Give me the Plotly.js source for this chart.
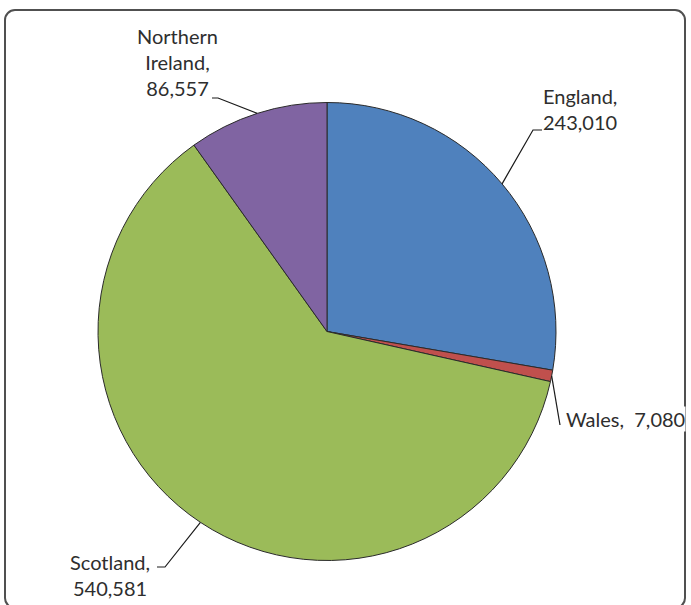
<!DOCTYPE html>
<html>
<head>
<meta charset="utf-8">
<script src="https://cdn.plot.ly/plotly-3.0.1.min.js"></script>
<style>
  html, body { margin: 0; padding: 0; background: #fff; overflow: hidden; }
  #wrap { position: relative; width: 691px; height: 605px; }
  #chart { position: absolute; left: 0; top: 0; width: 691px; height: 605px; z-index: 2; }
  #frame { position: absolute; left: 4px; top: 9px; width: 682px; height: 600px; z-index: 1;
           border: 2px solid #505050; border-radius: 11px; pointer-events: none; box-sizing: border-box; }
</style>
</head>
<body>
<div id="wrap"><div id="frame"></div><div id="chart"></div></div>
<script>
// ---- data ----
const categories = ["England", "Wales", "Scotland", "Northern Ireland"];
const labelText = ["England,<br>243,010", "Wales,\u00a0\u00a07,080", "Scotland,<br>540,581", "Northern<br>Ireland,<br>86,557"];
const values = [243010, 7080, 540581, 86557];
const colors = ["#4F81BD", "#C0504D", "#9BBB59", "#8064A2"];

// ---- layout geometry (pixels) ----
const W = 691, H = 605;
const cx = 327, cy = 331.5, R = 229;
const px = x => x / W;
const py = y => 1 - y / H;

// label placement (pixels): text anchor, alignment, elbow points of leader lines
const labelPos = [
  {x: 542, y: 109, xanchor: "left", align: "left", elbow: [[542, 130], [533, 130]], bg: "rgba(0,0,0,0)"},
  {x: 565, y: 419, xanchor: "left", align: "left", elbow: [[560, 425]], bg: "#ffffff"},
  {x: 110, y: 575, xanchor: "center", align: "center", elbow: [[157, 567], [165, 567]], bg: "rgba(0,0,0,0)"},
  {x: 177, y: 62, xanchor: "center", align: "center", elbow: [[212, 98], [218, 98]], bg: "rgba(0,0,0,0)"}
];

const total = values.reduce((a, b) => a + b, 0);
let acc = 0;
const shapes = [], annotations = [];
values.forEach((v, i) => {
  const mid = (acc + v / 2) / total * 2 * Math.PI; // clockwise from 12 o'clock
  acc += v;
  const ex = cx + R * Math.sin(mid), ey = cy - R * Math.cos(mid);
  const pts = labelPos[i].elbow.concat([[ex, ey]]);
  const path = pts.map((p, k) => (k ? "L" : "M") + px(p[0]).toFixed(5) + "," + py(p[1]).toFixed(5)).join(" ");
  shapes.push({type: "path", xref: "paper", yref: "paper", path: path,
               line: {color: "#1a1a1a", width: 1.2}});
  annotations.push({xref: "paper", yref: "paper", x: px(labelPos[i].x), y: py(labelPos[i].y),
                    xanchor: labelPos[i].xanchor, yanchor: "middle", align: labelPos[i].align,
                    text: labelText[i], showarrow: false, bgcolor: labelPos[i].bg, borderpad: 0,
                    font: {family: "Lato, 'Open Sans', sans-serif", size: 20, color: "#2e2e2e"}});
});

const trace = {
  type: "pie",
  labels: categories,
  values: values,
  sort: false,
  direction: "clockwise",
  rotation: 0,
  textinfo: "none",
  hoverinfo: "label+value",
  marker: {colors: colors, line: {color: "#2a2a2a", width: 1}},
  domain: {x: [px(cx - R), px(cx + R)], y: [py(cy + R), py(cy - R)]},
  showlegend: false
};

Plotly.newPlot("chart", [trace], {
  width: W, height: H,
  margin: {l: 0, r: 0, t: 0, b: 0},
  paper_bgcolor: "rgba(0,0,0,0)",
  plot_bgcolor: "rgba(0,0,0,0)",
  showlegend: false,
  shapes: shapes,
  annotations: annotations
}, {displayModeBar: false, staticPlot: true});
</script>
</body>
</html>
